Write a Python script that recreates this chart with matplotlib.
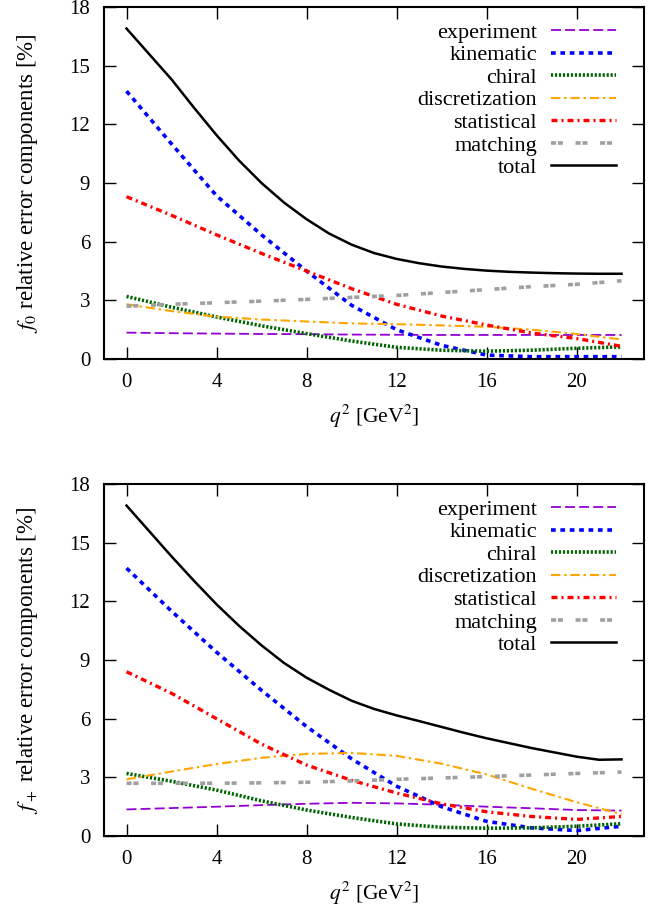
import matplotlib
matplotlib.use("Agg")
import matplotlib.pyplot as plt

plt.rcParams['font.family'] = ['Liberation Serif', 'DejaVu Serif']
plt.rcParams['mathtext.fontset'] = 'stix'

q2 = [0, 2, 4, 6, 8, 10, 12, 14, 16, 18, 20, 22]
q2_fine = list(range(0, 23))

# f0 error components [%]
f0_experiment = [1.35, 1.32, 1.30, 1.28, 1.27, 1.25, 1.24, 1.23, 1.23, 1.23, 1.23, 1.23]
f0_kinematic = [13.7, 11.0, 8.35, 6.35, 4.5, 2.75, 1.5, 0.7, 0.2, 0.12, 0.12, 0.12]
f0_chiral = [3.2, 2.65, 2.15, 1.7, 1.3, 0.92, 0.6, 0.45, 0.4, 0.45, 0.55, 0.62]
f0_discretization = [2.8, 2.45, 2.17, 2.02, 1.92, 1.82, 1.78, 1.72, 1.65, 1.5, 1.28, 1.0]
f0_statistical = [8.3, 7.35, 6.35, 5.4, 4.5, 3.6, 2.8, 2.2, 1.74, 1.33, 1.05, 0.65]
f0_matching = [2.7, 2.8, 2.88, 2.96, 3.05, 3.15, 3.25, 3.4, 3.55, 3.7, 3.82, 4.0]
f0_total = [16.9, 15.6, 14.3, 12.85, 11.45, 10.15, 9.0, 8.0, 7.15, 6.42, 5.85, 5.42,
            5.12, 4.9, 4.73, 4.61, 4.52, 4.46, 4.42, 4.39, 4.37, 4.36, 4.36]

# f+ error components [%]
fp_experiment = [1.36, 1.43, 1.5, 1.58, 1.65, 1.7, 1.67, 1.6, 1.5, 1.42, 1.33, 1.3]
fp_kinematic = [13.7, 11.5, 9.4, 7.45, 5.6, 3.95, 2.55, 1.5, 0.75, 0.42, 0.28, 0.5]
fp_chiral = [3.2, 2.8, 2.35, 1.8, 1.33, 0.95, 0.62, 0.45, 0.4, 0.42, 0.5, 0.63]
fp_discretization = [2.9, 3.3, 3.68, 4.0, 4.2, 4.25, 4.1, 3.7, 3.15, 2.42, 1.73, 1.12]
fp_statistical = [8.4, 7.3, 6.0, 4.7, 3.63, 2.85, 2.2, 1.65, 1.24, 1.0, 0.85, 1.0]
fp_matching = [2.7, 2.7, 2.7, 2.72, 2.75, 2.82, 2.9, 2.97, 3.04, 3.12, 3.2, 3.27]
fp_total = [16.9, 15.6, 14.3, 13.05, 11.85, 10.75, 9.75, 8.85, 8.1, 7.48, 6.92, 6.5,
            6.17, 5.88, 5.58, 5.28, 5.0, 4.75, 4.5, 4.28, 4.06, 3.9, 3.92]

labels = ['experiment', 'kinematic', 'chiral', 'discretization',
          'statistical', 'matching', 'total']

styles = [
    dict(color='#9400D3', lw=1.3, dashes=(5.5, 2.3)),
    dict(color='#0000FF', lw=2.6, dashes=(1.3, 1.3)),
    dict(color='#006400', lw=2.6, dashes=(0.6, 0.5)),
    dict(color='#FFA500', lw=1.5, dashes=(4.5, 1.8, 1.2, 1.8)),
    dict(color='#FF0000', lw=2.4, dashes=(1.8, 1.2, 0.6, 1.2)),
    dict(color='#A0A0A0', lw=2.6, dashes=(1.4, 0.5, 1.4, 3.5)),
    dict(color='black', lw=1.8, ls='-'),
]

fig = plt.figure(figsize=(6.72, 9.14), dpi=100)
ax1 = fig.add_axes([0.1548, 0.6072, 0.8036, 0.3851])
ax2 = fig.add_axes([0.1548, 0.0853, 0.8036, 0.3851])

panels = [
    (ax1, [f0_experiment, f0_kinematic, f0_chiral, f0_discretization,
           f0_statistical, f0_matching], f0_total, r'$f_0$'),
    (ax2, [fp_experiment, fp_kinematic, fp_chiral, fp_discretization,
           fp_statistical, fp_matching], fp_total, r'$f_+$'),
]

for ax, series, total, name in panels:
    for vals, lab, st in zip(series, labels[:-1], styles[:-1]):
        ax.plot(q2, vals, label=lab, **st)
    ax.plot(q2_fine, total, label=labels[-1], **styles[-1])

    ax.set_xlim(-1, 23)
    ax.set_ylim(0, 18)
    ax.set_xticks(range(0, 21, 4))
    ax.set_yticks(range(0, 19, 3))
    ax.tick_params(direction='in', length=8.5, width=1.0, top=True, right=True,
                   labelsize=15, pad=10)
    for sp in ax.spines.values():
        sp.set_linewidth(1.5)
    ax.set_xlabel(r'$q^2$ [GeV$^2$]', fontsize=15.5)
    ax.xaxis.set_label_coords(0.5, -0.125)
    ax.set_ylabel(name + ' relative error components [%]', fontsize=16.5)
    ax.yaxis.set_label_coords(-0.118, 0.5)

    # gnuplot-style key: labels right-aligned, sample after the text
    ax.legend(loc='upper right', bbox_to_anchor=(0.948, 0.957), frameon=False,
              markerfirst=False, handlelength=2.93, handletextpad=0.63,
              labelspacing=0.09, borderpad=0, borderaxespad=0, fontsize=16)

fig.savefig('out.png', dpi=100)
